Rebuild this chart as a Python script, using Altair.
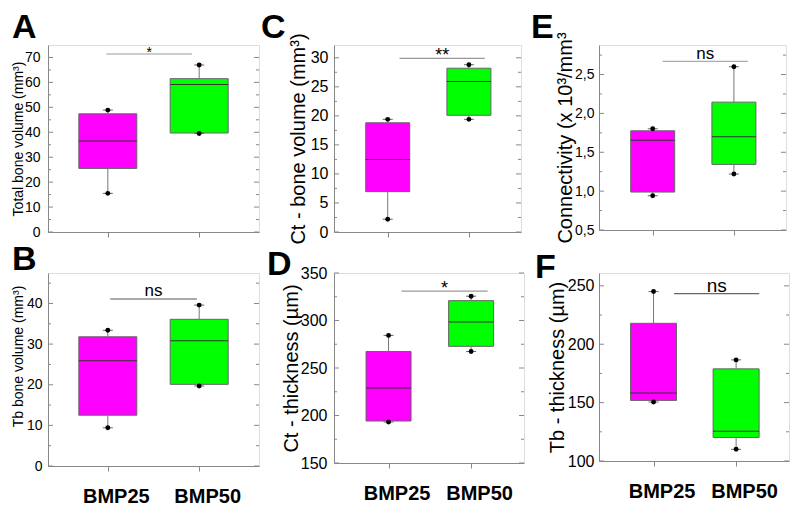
import altair as alt
import pandas as pd

FONT = "Liberation Sans"

groups = ["BMP25", "BMP50"]
group_pos = [1, 2]
box_colors = ["#FF00FF", "#00FF00"]

# ---- Panel A: Total bone volume (mm3)
a_min = [15.5, 39.5]
a_q1 = [25.5, 39.7]
a_med = [36.5, 59.2]
a_q3 = [47.4, 61.5]
a_max = [48.9, 67.0]
a_sig = [0.984, 1.922, 71.4]
a_major = [0, 10, 20, 30, 40, 50, 60, 70]
a_minor = [5, 15, 25, 35, 45, 55, 65]

# ---- Panel B: Tb bone volume (mm3)
b_min = [9.4, 19.7]
b_q1 = [12.5, 20.1]
b_med = [25.9, 30.8]
b_q3 = [31.8, 36.1]
b_max = [33.4, 39.6]
b_sig = [1.026, 1.975, 41.1]
b_major = [0, 10, 20, 30, 40]
b_minor = [5, 15, 25, 35, 45]

# ---- Panel C: Ct - bone volume (mm3)
c_min = [2.2, 19.4]
c_q1 = [6.95, 20.1]
c_med = [12.5, 25.9]
c_q3 = [18.8, 28.2]
c_max = [19.4, 28.8]
c_sig = [1.146, 2.195, 29.9]
c_major = [0, 5, 10, 15, 20, 25, 30]
c_minor = [2.5, 7.5, 12.5, 17.5, 22.5, 27.5]

# ---- Panel D: Ct - thickness (um)
d_min = [193.1, 267.4]
d_q1 = [194.2, 272.8]
d_med = [229.0, 298.3]
d_q3 = [267.4, 320.9]
d_max = [284.3, 325.6]
d_sig = [1.157, 2.2, 331.0]
d_major = [150, 200, 250, 300, 350]
d_minor = [175, 225, 275, 325]

# ---- Panel E: Connectivity
e_min = [0.941, 1.22]
e_q1 = [0.988, 1.344]
e_med = [1.656, 1.70]
e_q3 = [1.776, 2.145]
e_max = [1.802, 2.60]
e_sig = [1.123, 2.17, 2.67]
e_major = [0.5, 1.0, 1.5, 2.0, 2.5]
e_minor = [0.75, 1.25, 1.75, 2.25, 2.75]

# ---- Panel F: Tb - thickness (um)
f_min = [150.5, 110.0]
f_q1 = [151.9, 120.1]
f_med = [158.2, 125.5]
f_q3 = [217.9, 178.9]
f_max = [245.1, 186.6]
f_sig = [1.249, 2.28, 243.4]
f_major = [100, 150, 200, 250]
f_minor = [125, 175, 225]

FRAME = "#888888"


def panel(letter, lxy, ytitle, stats, ydom, xdom, major, minor, sig, sig_text,
          sig_font, sig_color, sig_dy, w, h, bw, bottom, ylab_size, ylab_pad,
          ytitle_size, ytitle_x, ytitle_y=None, comma=False):
    mins, q1s, meds, q3s, maxs = stats
    df = pd.DataFrame({"group": groups, "pos": group_pos, "color": box_colors,
                       "lo": mins, "q1": q1s, "med": meds, "q3": q3s, "hi": maxs})
    ends = pd.DataFrame({"pos": group_pos * 2, "v": list(mins) + list(maxs)})
    xs = alt.Scale(domain=xdom, nice=False, zero=False)
    ys = alt.Scale(domain=ydom, nice=False, zero=False)

    xkw = dict(values=group_pos, grid=False, ticks=True, tickSize=5, tickColor=FRAME,
               domainColor=FRAME, title="")
    if bottom:
        xkw.update(labels=True,
                   labelExpr=f"datum.value == {group_pos[0]} ? '{groups[0]}' : '{groups[1]}'",
                   labelFont=FONT, labelFontSize=20, labelFontWeight="bold",
                   labelColor="black", labelPadding=15, labelOffset=8)
    else:
        xkw.update(labels=False)
    x_axis = alt.Axis(**xkw)

    ykw = dict(values=major, grid=False, ticks=False, tickSize=0, domainColor=FRAME,
               labelFont=FONT, labelFontSize=ylab_size, labelColor="black",
               labelPadding=ylab_pad, title=ytitle, titleFont=FONT,
               titleFontSize=ytitle_size, titleFontWeight="normal", titleColor="black",
               titleAngle=270, titleBaseline="alphabetic", titleX=ytitle_x)
    if ytitle_y is not None:
        ykw["titleY"] = ytitle_y
    if comma:
        ykw["labelExpr"] = "replace(format(datum.value, '.1f'), '.', ',')"
    y_axis = alt.Axis(**ykw)

    def X(f):
        return alt.X(f, scale=xs, axis=x_axis)

    def Y(f):
        return alt.Y(f, scale=ys, axis=y_axis)

    base = alt.Chart(df)
    whisk_lo = base.mark_rule(color="#777", strokeWidth=1).encode(
        x=X("pos:Q"), y=Y("lo:Q"), y2="q1:Q")
    whisk_hi = base.mark_rule(color="#777", strokeWidth=1).encode(
        x=X("pos:Q"), y=Y("q3:Q"), y2="hi:Q")
    box = base.mark_bar(size=bw, stroke="#666", strokeWidth=1).encode(
        x=X("pos:Q"), y=Y("q1:Q"), y2="q3:Q",
        color=alt.Color("color:N", scale=None))
    med = base.mark_tick(orient="horizontal", size=bw, thickness=1, color="#333",
                         opacity=1).encode(x=X("pos:Q"), y=Y("med:Q"))
    ec = alt.Chart(ends)
    caps = ec.mark_tick(orient="horizontal", size=10, thickness=1, color="#666",
                        opacity=1).encode(x=X("pos:Q"), y=Y("v:Q"))
    dots = ec.mark_circle(size=24, color="black", opacity=1).encode(
        x=X("pos:Q"), y=Y("v:Q"))

    sdf = pd.DataFrame({"x1": [sig[0]], "x2": [sig[1]], "y": [sig[2]],
                        "xm": [(sig[0] + sig[1]) / 2], "t": [sig_text]})
    sc = alt.Chart(sdf)
    sig_rule = sc.mark_rule(color=sig_color, strokeWidth=1.2).encode(
        x=X("x1:Q"), x2="x2:Q", y=Y("y:Q"))
    sig_lab = sc.mark_text(font=FONT, fontSize=sig_font, color="black",
                           baseline="alphabetic", dy=sig_dy).encode(
        x=X("xm:Q"), y=Y("y:Q"), text="t:N")

    tmaj = alt.Chart(pd.DataFrame({"v": major}))
    tmin = alt.Chart(pd.DataFrame({"v": minor}))
    t1 = tmaj.mark_rule(color=FRAME).encode(y=Y("v:Q"), x=alt.value(0), x2=alt.value(5))
    t2 = tmaj.mark_rule(color=FRAME).encode(y=Y("v:Q"), x=alt.value(w - 5), x2=alt.value(w))
    t3 = tmin.mark_rule(color=FRAME).encode(y=Y("v:Q"), x=alt.value(0), x2=alt.value(3))
    t4 = tmin.mark_rule(color=FRAME).encode(y=Y("v:Q"), x=alt.value(w - 3), x2=alt.value(w))

    let = alt.Chart(pd.DataFrame({"L": [letter]})).mark_text(
        font=FONT, fontSize=34, fontWeight="bold", align="left", baseline="top",
        color="black").encode(text="L:N", x=alt.value(lxy[0]), y=alt.value(lxy[1]))

    return alt.layer(box, whisk_lo, whisk_hi, med, caps, dots, sig_rule, sig_lab,
                     t1, t2, t3, t4, let).properties(width=w, height=h)


A = panel("A", (-36, -34), "Total bone volume (mm³)", (a_min, a_q1, a_med, a_q3, a_max),
          [0, 75], [0.4, 2.6], a_major, a_minor, a_sig, "*", 14, "#999", 3,
          211, 187, 58, False, 14, 8, 14, -26)
C = panel("C", (-73, -34), "Ct - bone volume (mm³)", (c_min, c_q1, c_med, c_q3, c_max),
          [0, 32.2], [0.4, 2.58], c_major, c_minor, c_sig, "**", 18, "#999", 3,
          187, 187, 44, False, 16, 6, 20, -30)
E = panel("E", (-68, -34), "Connectivity (x 10³/mm³", (e_min, e_q1, e_med, e_q3, e_max),
          [0.5, 2.88], [0.4, 2.58], e_major, e_minor, e_sig, "ns", 17, "#aaa", -2,
          187, 185, 44, False, 14, 5, 20, -28, None, True)
B = panel("B", (-36, -30), "Tb bone volume (mm³)", (b_min, b_q1, b_med, b_q3, b_max),
          [0, 47.5], [0.4, 2.6], b_major, b_minor, b_sig, "ns", 17, "#555", -3,
          211, 193, 58, True, 14, 6, 14, -26, 83)
D = panel("D", (-67, -25), "Ct - thickness (µm)", (d_min, d_q1, d_med, d_q3, d_max),
          [150, 350], [0.4, 2.58], d_major, d_minor, d_sig, "*", 18, "#999", 3,
          190, 190, 45, True, 16, 7, 20, -37)
F = panel("F", (-64, -22), "Tb - thickness (µm)", (f_min, f_q1, f_med, f_q3, f_max),
          [100, 261], [0.4, 2.58], f_major, f_minor, f_sig, "ns", 19, "#666", -2,
          190, 188, 46, True, 16, 5, 20, -36)

chart = alt.concat(A, C, E, B, D, F, columns=3,
                   spacing=alt.RowColnumber(row=41, column=75),
                   bounds="flush").properties(
    padding={"left": 2, "top": 2, "right": 0, "bottom": 0}
).configure_view(stroke=FRAME, strokeWidth=1).configure(font=FONT)

chart.save("out.html", embed_options={"renderer": "svg", "actions": False})
